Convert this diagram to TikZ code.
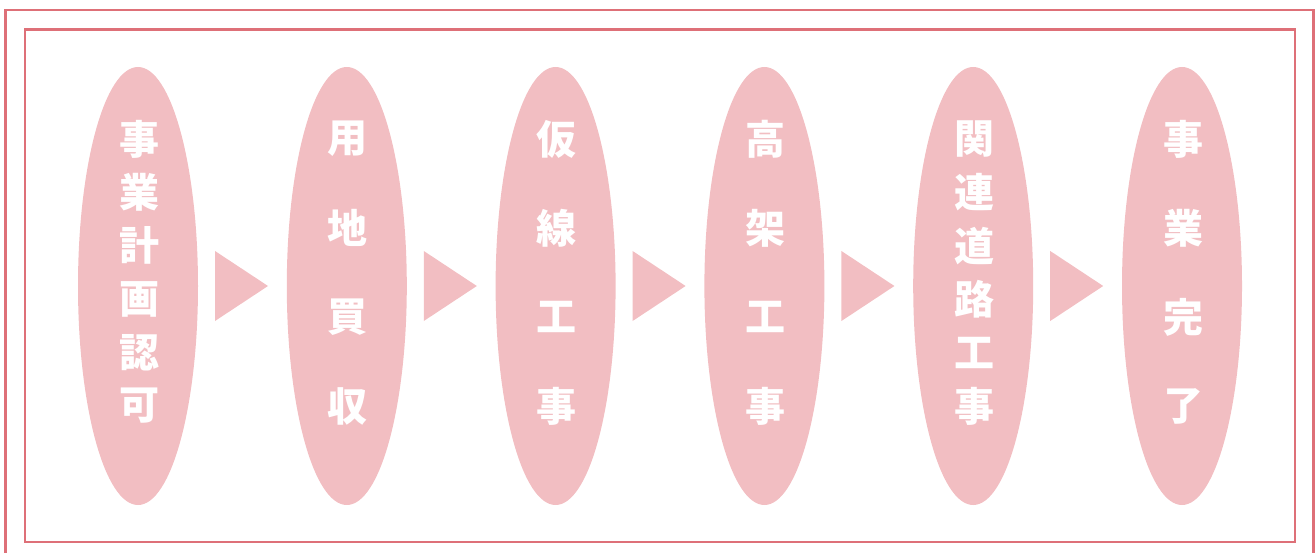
\documentclass[tikz,border=0pt]{standalone}
\usepackage{fontspec}
\usetikzlibrary{shapes.geometric,calc}
\newfontfamily\cjk{Noto Sans CJK JP}
\definecolor{framecol}{RGB}{222,112,120}
\definecolor{pillcol}{RGB}{242,190,194}
\begin{document}
\begin{tikzpicture}[x=1pt,y=-1pt,
  frame/.style={draw=framecol,line width=2.6pt},
  pill/.style={ellipse,fill=pillcol,minimum width=120pt,minimum height=438pt,inner sep=0pt},
  chr/.style={text=white,font=\cjk\bfseries\fontsize{40pt}{40pt}\selectfont,inner sep=0pt},
  arrowtri/.style={fill=pillcol}]
\useasboundingbox (0,0) rectangle (1316,553);
\draw[frame] (5.5,10) rectangle (1313.5,570);
\draw[frame] (25,29.5) rectangle (1295,542);
\foreach \k/\txt/\n in {0/{事,業,計,画,認,可}/6,1/{用,地,買,収}/4,2/{仮,線,工,事}/4,3/{高,架,工,事}/4,4/{関,連,道,路,工,事}/6,5/{事,業,完,了}/4}{
  \node[pill] (p\k) at (138+208.8*\k,286) {};
  \foreach \c [count=\i] in \txt {
    \node[chr] (t\k-\i) at ($(p\k.center)+(1,{139-286+(\i-1)*267/(\n-1)})$) {\c};
  }
}
\foreach \k in {0,...,4}{
  \coordinate (a\k) at ($(p\k.center)+(77,-35)$);
  \coordinate (b\k) at ($(p\k.center)+(77,35)$);
  \coordinate (c\k) at ($(p\k.center)+(130,0)$);
  \fill[arrowtri] (a\k) -- (c\k) -- (b\k) -- cycle;
}
\end{tikzpicture}
\end{document}
